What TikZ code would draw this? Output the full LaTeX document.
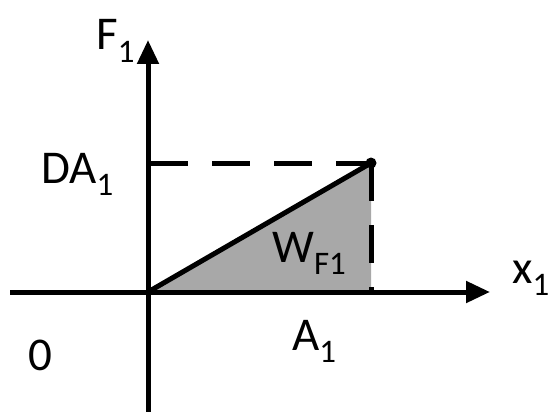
\documentclass[tikz,border=0pt]{standalone}
\usepackage{fontspec}
\setmainfont{Carlito}
\usetikzlibrary{arrows.meta}

\begin{document}
\begin{tikzpicture}[
        x = 1pt, y = -1pt,
        >= {Triangle[length = 24pt, width = 21pt]},
        axis/.style = {line width = 5pt},
        guide/.style = {line width = 5pt, dash pattern = on 38pt off 24pt},
        lbl/.style = {inner sep = 0pt, anchor = base west, font = \fontsize{47}{56}\selectfont},
        work/.style = {fill = gray!68}
    ]
      \useasboundingbox (0,0) rectangle (557,412);

      \coordinate (O) at (148,292);
      \coordinate (P) at (371,163);
      \coordinate (Pa) at (371,292);
      \coordinate (Pf) at (150,163);
      \coordinate (ytop) at (148,40);
      \coordinate (ybot) at (148,412);
      \coordinate (xleft) at (10,292);
      \coordinate (xright) at (490,292);

      % work area under the line
      \fill[work] (O) -- (P) -- (Pa) -- cycle;

      \draw[axis, ->] (ybot) -- (ytop);
      \draw[axis, ->] (xleft) -- (xright);
      \draw[guide] (Pf) -- (P);
      \draw[guide] (P) -- (Pa);
      \draw[line width = 5pt, line cap = round] (O) -- (P);
      \fill (P) circle (5.5pt);

      \node[lbl] (F) at (96,50) {F\textsubscript{1}};
      \node[lbl] (DA) at (41,183) {DA\textsubscript{1}};
      \node[lbl] (W) at (272,262) {W\textsubscript{F1}};
      \node[lbl] (x) at (512,283) {x\textsubscript{1}};
      \node[lbl] (zero) at (28,370) {0};
      \node[lbl] (A) at (292,350) {A\textsubscript{1}};
\end{tikzpicture}
\end{document}
